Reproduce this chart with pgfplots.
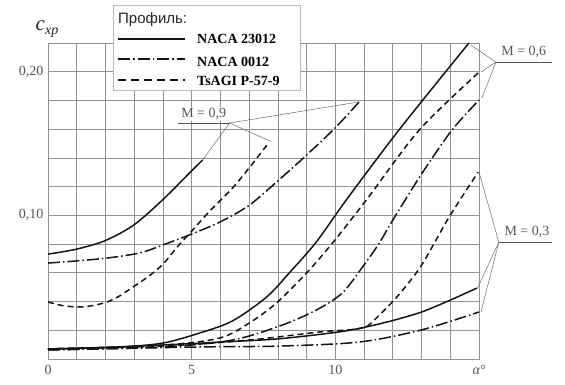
\documentclass[border=0pt]{standalone}
\usepackage{fontspec}
\setmainfont{Liberation Serif}
\newfontfamily\sansf{Liberation Sans}
\usepackage{pgfplots}
\pgfplotsset{compat=1.18}
\definecolor{gridc}{RGB}{145,145,145}
\definecolor{gridd}{RGB}{95,95,95}
\definecolor{lblc}{RGB}{85,85,85}
\definecolor{curve}{RGB}{20,20,20}
\tikzset{
  solidc/.style={curve, line width=1.5pt},
  dashc/.style={curve, line width=1.5pt, dash pattern=on 6pt off 4pt},
  dashdotc/.style={curve, line width=1.5pt, dash pattern=on 12pt off 3pt on 1.5pt off 3pt},
  leader/.style={gridd, line width=0.45pt},
}
\begin{document}
\begin{tikzpicture}[x=1pt,y=1pt]
\begin{axis}[at={(0pt,0pt)}, anchor=south west, scale only axis,
  width=431pt, height=316pt,
  xmin=0, xmax=15, ymin=0, ymax=0.22, clip=false,
  xtick={0,1,2,3,4,5,6,7,8,9,10,11,12,13,14,15},
  xticklabels={0,,,,,5,,,,,10,,,,,{\itshape α°}},
  ytick={0,0.02,0.04,0.06,0.08,0.1,0.12,0.14,0.16,0.18,0.2,0.22},
  yticklabels={,,,,,{\mbox{0,10}},,,,,{\mbox{0,20}},},
  major tick length=0pt,
  grid=major, grid style={gridc, line width=0.65pt},
  axis line style={gridc, line width=0.7pt},
  tick label style={font=\fontsize{14}{14}\selectfont, text=lblc},
  xticklabel style={yshift=-3pt},
  yticklabel style={xshift=-1pt},
]
% ---- NACA 23012 (solid)
\addplot[solidc, smooth] coordinates {(0,0.073) (1,0.0765) (2,0.0825) (3,0.0935) (4,0.111) (5,0.131) (5.38,0.1385)};
\addplot[solidc, smooth] coordinates {(0,0.007) (2.5,0.0084) (4,0.0111) (5.28,0.0181) (6.42,0.0265) (7.6,0.043) (8.4,0.06) (9.34,0.0815) (10.38,0.1107) (12.22,0.1596) (14.65,0.22)};
\addplot[solidc, smooth] coordinates {(0,0.007) (2,0.008) (4,0.0097) (6,0.0118) (8,0.014) (10,0.0185) (11,0.022) (12,0.0268) (13,0.0327) (14,0.041) (14.93,0.0494)};

% ---- NACA 0012 (dash-dot)
\addplot[dashdotc, smooth] coordinates {(0,0.0668) (1,0.0683) (2.06,0.0703) (3.19,0.0738) (4,0.0794) (5,0.0870) (6,0.0955) (7,0.107) (8,0.124) (9,0.142) (10,0.161) (10.83,0.179)};
\addplot[dashdotc, smooth] coordinates {(0,0.0063) (4,0.0084) (6.42,0.0132) (8.16,0.0237) (9.34,0.0341) (10.24,0.0459) (10.97,0.0647) (11.53,0.0807) (12.0,0.0967) (13.02,0.1294) (14.06,0.1594) (15,0.1803)};
\addplot[dashdotc, smooth] coordinates {(0,0.0063) (5.28,0.0084) (8.06,0.009) (10.83,0.0118) (12.99,0.0202) (15,0.0327)};

% ---- TsAGI P-57-9 (dashed)
\addplot[dashc, smooth] coordinates {(0,0.0397) (0.5,0.0372) (1.04,0.0362) (1.5,0.037) (2.06,0.0397) (2.5,0.044) (2.95,0.050) (3.5,0.0575) (4,0.066) (4.5,0.078) (5,0.089) (5.63,0.103) (6.42,0.119) (7,0.133) (7.7,0.151)};
\addplot[dashc, smooth] coordinates {(0,0.007) (4,0.0097) (5.97,0.0146) (7.01,0.0251) (7.95,0.039) (9.0,0.0599) (9.9,0.0807) (11.08,0.1107) (12.92,0.1594) (15,0.1997)};
\addplot[dashc, smooth] coordinates {(0,0.007) (4,0.009) (7.01,0.0132) (9.44,0.0188) (10.94,0.0216) (11.5,0.030) (12.22,0.045) (12.99,0.065) (13.96,0.0988) (14.97,0.1301)};

% ---- annotations
\node[fill=white, inner sep=1pt, font=\fontsize{14}{14}\selectfont, text=lblc] at (axis cs:5.42,0.1705) {M = 0,9};
\draw[lblc, line width=0.9pt] (axis cs:4.51,0.1643) -- (axis cs:6.32,0.1643);
\draw[leader] (axis cs:6.32,0.1643) -- (axis cs:5.38,0.1385);
\draw[leader] (axis cs:6.32,0.1643) -- (axis cs:7.75,0.1515);
\draw[leader] (axis cs:6.32,0.1643) -- (axis cs:10.83,0.179);

\node[font=\fontsize{14}{14}\selectfont, text=lblc] at (axis cs:16.56,0.2137) {M = 0,6};
\draw[lblc, line width=0.9pt] (axis cs:15.59,0.2067) -- (axis cs:17.55,0.2067);
\draw[leader] (axis cs:15.59,0.2067) -- (axis cs:14.72,0.2185);
\draw[leader] (axis cs:15.59,0.2067) -- (axis cs:15.07,0.1997);
\draw[leader] (axis cs:15.59,0.2067) -- (axis cs:15.1,0.1817);

\node[font=\fontsize{14}{14}\selectfont, text=lblc] at (axis cs:16.67,0.0884) {M = 0,3};
\draw[lblc, line width=0.9pt] (axis cs:15.69,0.0814) -- (axis cs:17.55,0.0814);
\draw[leader] (axis cs:15.69,0.0814) -- (axis cs:15.0,0.1301);
\draw[leader] (axis cs:15.69,0.0814) -- (axis cs:14.95,0.0494);
\draw[leader] (axis cs:15.69,0.0814) -- (axis cs:15.07,0.0327);
\end{axis}

% y label
\node[text=black!85] at (-1,330) {\fontsize{21}{21}\selectfont\itshape c\raisebox{-4pt}{\fontsize{14}{14}\selectfont xp}};

% legend
\fill[white] (65,269) rectangle (252,354);
\draw[gray!55, line width=0.7pt] (65,269) rectangle (252,354);
\node[anchor=west, inner sep=0pt, font=\sansf\fontsize{15}{15}\selectfont, text=black!85] at (70,339) {Профиль:};
\draw[solidc] (70,320) -- (137,320);
\node[anchor=west, inner sep=0pt, font=\bfseries\fontsize{14}{14}\selectfont] at (149,320) {NACA 23012};
\draw[dashdotc] (70,300) -- (137,300);
\node[anchor=west, inner sep=0pt, font=\bfseries\fontsize{14}{14}\selectfont] at (149,297) {NACA 0012};
\draw[curve, line width=1.5pt, dash pattern=on 8pt off 5pt] (70,279) -- (137,279);
\node[anchor=west, inner sep=0pt, font=\bfseries\fontsize{14}{14}\selectfont] at (149,278) {TsAGI P-57-9};

\pgfresetboundingbox
\path (-48pt,-26pt) rectangle (517pt,359pt);
\end{tikzpicture}
\end{document}
